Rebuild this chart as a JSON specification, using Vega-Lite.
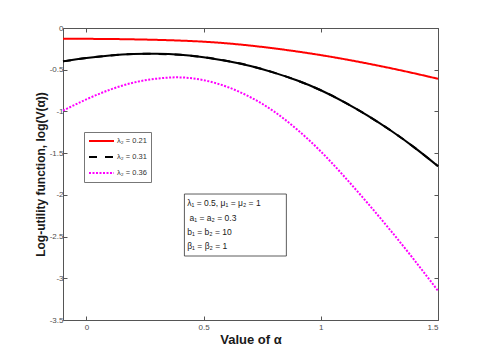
{
  "$schema": "https://vega.github.io/schema/vega-lite/v6.json",
  "width": 375,
  "height": 292,
  "autosize": {"type": "none"},
  "padding": {"left": 63, "top": 28, "right": 47, "bottom": 40},
  "background": "white",
  "config": {
    "font": "Liberation Sans",
    "view": {"stroke": null},
    "axis": {
      "grid": false,
      "domainColor": "#555555",
      "tickColor": "#555555",
      "labelColor": "#4d4d4d",
      "labelFontSize": 8,
      "tickSize": -4,
      "titleColor": "#1a1a1a",
      "titleFontWeight": "bold"
    }
  },
  "datasets": {
    "curves": [
      {"a": -0.1, "v": -0.13, "s": "λ₂ = 0.21"},
      {"a": 0.0, "v": -0.13, "s": "λ₂ = 0.21"},
      {"a": 0.1, "v": -0.132, "s": "λ₂ = 0.21"},
      {"a": 0.2, "v": -0.136, "s": "λ₂ = 0.21"},
      {"a": 0.3, "v": -0.142, "s": "λ₂ = 0.21"},
      {"a": 0.4, "v": -0.151, "s": "λ₂ = 0.21"},
      {"a": 0.5, "v": -0.164, "s": "λ₂ = 0.21"},
      {"a": 0.6, "v": -0.184, "s": "λ₂ = 0.21"},
      {"a": 0.7, "v": -0.211, "s": "λ₂ = 0.21"},
      {"a": 0.8, "v": -0.244, "s": "λ₂ = 0.21"},
      {"a": 0.9, "v": -0.282, "s": "λ₂ = 0.21"},
      {"a": 1.0, "v": -0.325, "s": "λ₂ = 0.21"},
      {"a": 1.1, "v": -0.373, "s": "λ₂ = 0.21"},
      {"a": 1.2, "v": -0.426, "s": "λ₂ = 0.21"},
      {"a": 1.3, "v": -0.483, "s": "λ₂ = 0.21"},
      {"a": 1.4, "v": -0.544, "s": "λ₂ = 0.21"},
      {"a": 1.5, "v": -0.609, "s": "λ₂ = 0.21"},
      {"a": -0.1, "v": -0.40, "s": "λ₂ = 0.31"},
      {"a": 0.0, "v": -0.36, "s": "λ₂ = 0.31"},
      {"a": 0.1, "v": -0.33, "s": "λ₂ = 0.31"},
      {"a": 0.2, "v": -0.312, "s": "λ₂ = 0.31"},
      {"a": 0.3, "v": -0.31, "s": "λ₂ = 0.31"},
      {"a": 0.4, "v": -0.322, "s": "λ₂ = 0.31"},
      {"a": 0.5, "v": -0.35, "s": "λ₂ = 0.31"},
      {"a": 0.6, "v": -0.395, "s": "λ₂ = 0.31"},
      {"a": 0.7, "v": -0.455, "s": "λ₂ = 0.31"},
      {"a": 0.8, "v": -0.535, "s": "λ₂ = 0.31"},
      {"a": 0.9, "v": -0.63, "s": "λ₂ = 0.31"},
      {"a": 1.0, "v": -0.746, "s": "λ₂ = 0.31"},
      {"a": 1.1, "v": -0.888, "s": "λ₂ = 0.31"},
      {"a": 1.2, "v": -1.05, "s": "λ₂ = 0.31"},
      {"a": 1.3, "v": -1.232, "s": "λ₂ = 0.31"},
      {"a": 1.4, "v": -1.434, "s": "λ₂ = 0.31"},
      {"a": 1.5, "v": -1.656, "s": "λ₂ = 0.31"},
      {"a": -0.1, "v": -0.99, "s": "λ₂ = 0.36"},
      {"a": 0.0, "v": -0.855, "s": "λ₂ = 0.36"},
      {"a": 0.1, "v": -0.74, "s": "λ₂ = 0.36"},
      {"a": 0.2, "v": -0.655, "s": "λ₂ = 0.36"},
      {"a": 0.3, "v": -0.607, "s": "λ₂ = 0.36"},
      {"a": 0.4, "v": -0.592, "s": "λ₂ = 0.36"},
      {"a": 0.5, "v": -0.625, "s": "λ₂ = 0.36"},
      {"a": 0.6, "v": -0.705, "s": "λ₂ = 0.36"},
      {"a": 0.7, "v": -0.83, "s": "λ₂ = 0.36"},
      {"a": 0.8, "v": -1.0, "s": "λ₂ = 0.36"},
      {"a": 0.9, "v": -1.22, "s": "λ₂ = 0.36"},
      {"a": 1.0, "v": -1.48, "s": "λ₂ = 0.36"},
      {"a": 1.1, "v": -1.78, "s": "λ₂ = 0.36"},
      {"a": 1.2, "v": -2.10, "s": "λ₂ = 0.36"},
      {"a": 1.3, "v": -2.435, "s": "λ₂ = 0.36"},
      {"a": 1.4, "v": -2.785, "s": "λ₂ = 0.36"},
      {"a": 1.5, "v": -3.15, "s": "λ₂ = 0.36"}
    ],
    "box": [
      {"x0": 0.418, "x1": 0.853, "y0": -1.99, "y1": -2.733}
    ],
    "notes": [
      {"x": 0.43, "y": -2.10, "t": "λ₁ = 0.5, μ₁ = μ₂ = 1"},
      {"x": 0.44, "y": -2.28, "t": "a₁ = a₂ = 0.3"},
      {"x": 0.43, "y": -2.445, "t": "b₁ = b₂ = 10"},
      {"x": 0.43, "y": -2.61, "t": "β₁ = β₂ = 1"}
    ]
  },
  "layer": [
    {
      "data": {"name": "curves"},
      "mark": {"type": "line", "strokeWidth": 2, "interpolate": "natural"},
      "encoding": {
        "x": {
          "field": "a", "type": "quantitative",
          "scale": {"domain": [-0.1, 1.5], "nice": false, "zero": false},
          "axis": {"values": [0, 0.5, 1, 1.5], "labelExpr": "toString(datum.value)", "title": "Value of α", "titleFontSize": 13, "labelPadding": 7, "titlePadding": 2}
        },
        "y": {
          "field": "v", "type": "quantitative",
          "scale": {"domain": [-3.5, 0], "nice": false, "zero": false},
          "axis": {"values": [-3.5, -3, -2.5, -2, -1.5, -1, -0.5, 0], "labelExpr": "toString(datum.value)", "title": "Log-utility function, log(V(α))", "titleFontSize": 12, "labelPadding": 4, "titlePadding": 2}
        },
        "color": {
          "field": "s", "type": "nominal",
          "scale": {"domain": ["λ₂ = 0.21", "λ₂ = 0.31", "λ₂ = 0.36"], "range": ["#ff0000", "#000000", "#ff00ff"]},
          "legend": {"title": null, "orient": "none", "legendX": 21, "legendY": 104, "symbolType": "stroke", "symbolSize": 625, "symbolStrokeWidth": 2, "clipHeight": 10, "rowPadding": 6, "padding": 4, "labelFontSize": 7.5, "labelOffset": 2, "strokeColor": "#777777", "fillColor": "white", "labelColor": "#333333"}
        },
        "strokeDash": {
          "field": "s", "type": "nominal",
          "scale": {"domain": ["λ₂ = 0.21", "λ₂ = 0.31", "λ₂ = 0.36"], "range": [[1, 0], [8, 8], [2, 1.5]]},
          "legend": {"title": null, "orient": "none", "legendX": 21, "legendY": 104, "symbolType": "stroke", "symbolSize": 625, "symbolStrokeWidth": 2, "clipHeight": 10, "rowPadding": 6, "padding": 4, "labelFontSize": 7.5, "labelOffset": 2, "strokeColor": "#777777", "fillColor": "white", "labelColor": "#333333"}
        }
      }
    },
    {
      "data": {"name": "curves"},
      "transform": [{"filter": "datum.s == 'λ₂ = 0.31'"}],
      "mark": {"type": "line", "strokeWidth": 2, "interpolate": "natural", "color": "#000000"},
      "encoding": {
        "x": {
          "field": "a", "type": "quantitative",
          "scale": {"domain": [-0.1, 1.5], "nice": false, "zero": false},
          "axis": {"orient": "top", "values": [0, 0.5, 1, 1.5], "labels": false, "title": null}
        },
        "y": {
          "field": "v", "type": "quantitative",
          "scale": {"domain": [-3.5, 0], "nice": false, "zero": false},
          "axis": {"orient": "right", "values": [-3.5, -3, -2.5, -2, -1.5, -1, -0.5, 0], "labels": false, "title": null}
        }
      }
    },
    {
      "data": {"name": "box"},
      "mark": {"type": "rect", "fill": "white", "stroke": "#333333", "strokeWidth": 0.8},
      "encoding": {
        "x": {"field": "x0", "type": "quantitative", "scale": {"domain": [-0.1, 1.5], "nice": false, "zero": false}, "axis": null},
        "x2": {"field": "x1"},
        "y": {"field": "y0", "type": "quantitative", "scale": {"domain": [-3.5, 0], "nice": false, "zero": false}, "axis": null},
        "y2": {"field": "y1"}
      }
    },
    {
      "data": {"name": "notes"},
      "mark": {"type": "text", "align": "left", "baseline": "middle", "fontSize": 8.5, "color": "#1a1a1a"},
      "encoding": {
        "x": {"field": "x", "type": "quantitative", "scale": {"domain": [-0.1, 1.5], "nice": false, "zero": false}, "axis": null},
        "y": {"field": "y", "type": "quantitative", "scale": {"domain": [-3.5, 0], "nice": false, "zero": false}, "axis": null},
        "text": {"field": "t"}
      }
    }
  ],
  "resolve": {"axis": {"x": "independent", "y": "independent"}}
}
